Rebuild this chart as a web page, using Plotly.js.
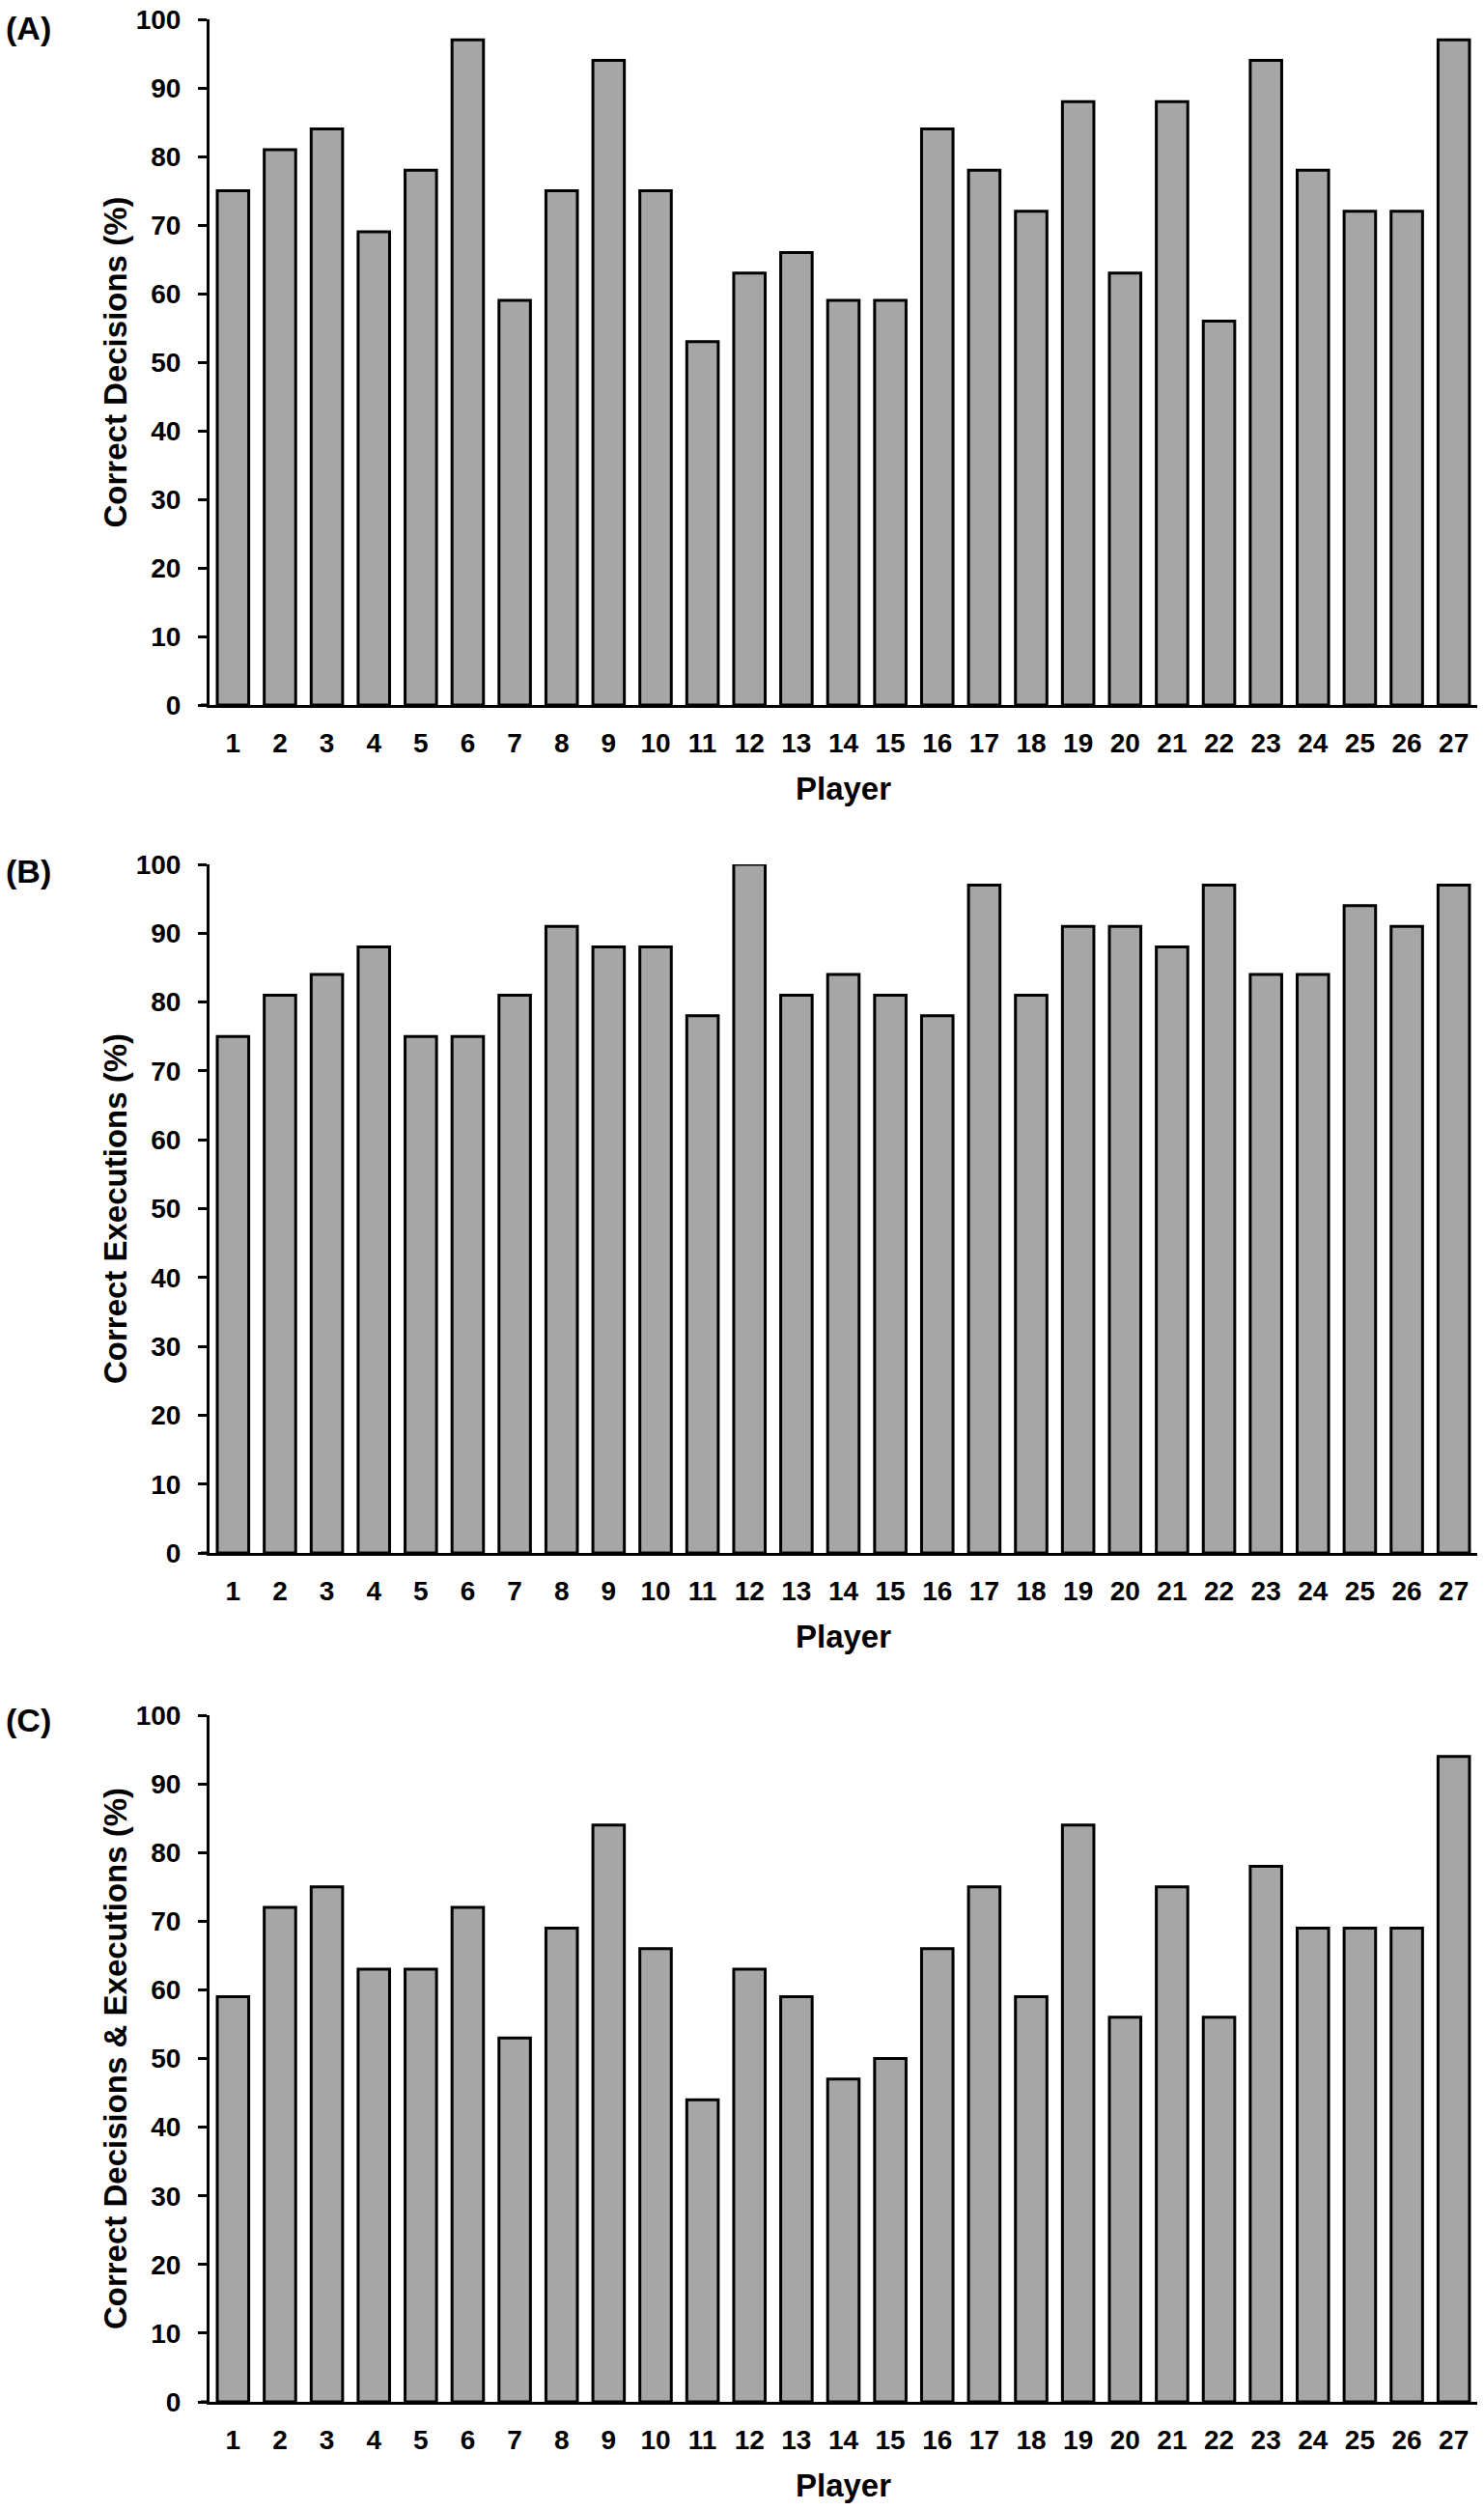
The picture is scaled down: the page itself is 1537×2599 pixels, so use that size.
<!DOCTYPE html>
<html>
<head>
<meta charset="utf-8">
<script src="https://cdn.plot.ly/plotly-3.0.1.min.js"></script>
<style>
   html, body { margin: 0; padding: 0; background: #fff; }
</style>
</head>
<body>
<div id="chart" style="width:1537px;height:2599px"></div>
<script>

// ---------------------- data ----------------------

const players = ['1', '2', '3', '4', '5', '6', '7', '8', '9', '10', '11', '12', '13', '14',
   '15', '16', '17', '18', '19', '20', '21', '22', '23', '24', '25', '26', '27'];

const decisions = [75, 81, 84, 69, 78, 97, 59, 75, 94, 75, 53, 63, 66, 59,
   59, 84, 78, 72, 88, 63, 88, 56, 94, 78, 72, 72, 97];

const executions = [75, 81, 84, 88, 75, 75, 81, 91, 88, 88, 78, 100, 81, 84,
   81, 78, 97, 81, 91, 91, 88, 97, 84, 84, 94, 91, 97];

const combined = [59, 72, 75, 63, 63, 72, 53, 69, 84, 66, 44, 63, 59, 47,
   50, 66, 75, 59, 84, 56, 75, 56, 78, 69, 69, 69, 94];

const panelLabels = ['(A)', '(B)', '(C)'];
const yTitles = ['Correct Decisions (%)', 'Correct Executions (%)', 'Correct Decisions &amp; Executions (%)'];
const xTitle = 'Player';

// ---------------------- layout ----------------------

const W = 1537;
const H = 2599;
const FONT = 'Liberation Sans, Arial, Helvetica, sans-serif';

// pixel rows of each panel: [top of 100, bottom at 0]
const panelRows = [[20, 730], [895, 1608], [1776, 2487]];
const labelTops = [8, 881, 1760];
const plotLeft = 217;
const plotRight = 1530;

function py(px) {
   return 1 - px / H;
}

function makeTrace(values, i) {
   const suffix = i == 0 ? '' : String(i + 1);
   return {
      type: 'bar',
      x: players,
      y: values,
      xaxis: 'x' + suffix,
      yaxis: 'y' + suffix,
      marker: { color: '#a6a6a6', line: { color: '#000', width: 3 } },
      hoverinfo: 'x+y',
      showlegend: false,
   };
}

const traces = [decisions, executions, combined].map(makeTrace);

const tickFont = { family: FONT, size: 28, weight: 700, color: '#000' };
const titleFont = { family: FONT, size: 33, weight: 700, color: '#000' };

const layout = {
   width: W,
   height: H,
   autosize: false,
   margin: { t: 0, b: 0, l: 0, r: 0 },
   paper_bgcolor: '#fff',
   plot_bgcolor: '#fff',
   bargap: 0.33,
   annotations: [],
   shapes: [],
};

panelRows.forEach((row, i) => {
   const suffix = i == 0 ? '' : String(i + 1);

   layout['xaxis' + suffix] = {
      type: 'category',
      domain: [plotLeft / W, plotRight / W],
      anchor: 'y' + suffix,
      range: [-0.5, players.length - 0.5],
      showline: true,
      linecolor: '#000',
      linewidth: 3,
      ticks: '',
      ticklabelstandoff: 12,
      showgrid: false,
      zeroline: false,
      tickfont: tickFont,
      title: { text: xTitle, font: titleFont, standoff: 22 },
      fixedrange: true,
   };

   layout['yaxis' + suffix] = {
      domain: [py(row[1]), py(row[0])],
      anchor: 'x' + suffix,
      range: [0, 100],
      dtick: 10,
      showline: true,
      linecolor: '#000',
      linewidth: 3,
      ticks: 'outside',
      ticklen: 9,
      tickwidth: 3,
      tickcolor: '#000',
      ticklabelstandoff: 12,
      showgrid: false,
      zeroline: false,
      tickfont: tickFont,
      title: { text: yTitles[i], font: titleFont, standoff: 0 },
      fixedrange: true,
   };

   // baseline runs on to the end of the y ticks
   layout.shapes.push({
      type: 'line', xref: 'paper', yref: 'paper',
      x0: 208 / W, x1: plotLeft / W, y0: py(row[1]), y1: py(row[1]),
      line: { color: '#000', width: 3 },
   });

   layout.annotations.push({
      text: panelLabels[i],
      xref: 'paper', yref: 'paper',
      x: 4 / W, y: py(labelTops[i]),
      xanchor: 'left', yanchor: 'top',
      showarrow: false,
      font: { family: FONT, size: 34, weight: 700, color: '#000' },
   });
});

Plotly.newPlot('chart', traces, layout, { staticPlot: true, displayModeBar: false });

</script>
</body>
</html>
